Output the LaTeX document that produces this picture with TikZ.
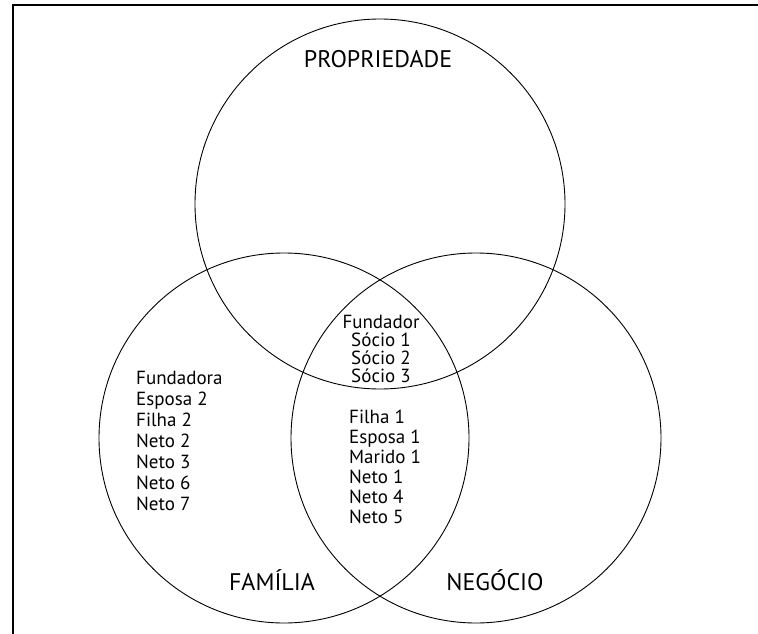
\documentclass[tikz,border=0pt]{standalone}
\usepackage{fontspec}
\setmainfont{PT Sans}
\usetikzlibrary{positioning}

\begin{document}
\begin{tikzpicture}[x=1pt, y=-1pt,
	set/.style={draw, circle, minimum size=370pt, inner sep=0pt, line width=0.9pt},
	title/.style={font=\fontsize{24}{26}\selectfont, inner sep=0pt, anchor=base},
	members/.style={font=\fontsize{19}{#1}\selectfont, inner sep=0pt}]
		\useasboundingbox (0,0) rectangle (758,634);
		
		% frame
		\coordinate (frameR) at (758,5.5);
		\coordinate (frameC) at (12.5,5.5);
		\coordinate (frameB) at (12.5,634);
		\draw[line width=2pt] (frameR) -- (frameC) -- (frameB);
		
		\node[set] (prop) at (380,204) {};
		\node[set] (fam) at (284,438) {};
		\node[set] (neg) at (476,438) {};
		
		\node[title] (propLabel) at (378,67) {PROPRIEDADE};
		\node[title] (famLabel) at (272,590) {FAMÍLIA};
		\node[title] (negLabel) at (495,590) {NEGÓCIO};
		
		\node[members=18, anchor=north, align=center] (socios) at (381,315)
		{Fundador\\Sócio 1\\Sócio 2\\Sócio 3};
		\node[members=20, anchor=north west, align=left] (ambos) at (349,410)
		{Filha 1\\Esposa 1\\Marido 1\\Neto 1\\Neto 4\\Neto 5};
		\node[members=21, anchor=north west, align=left] (familia) at (136,371)
		{Fundadora\\Esposa 2\\Filha 2\\Neto 2\\Neto 3\\Neto 6\\Neto 7};
	\end{tikzpicture}
\end{document}
